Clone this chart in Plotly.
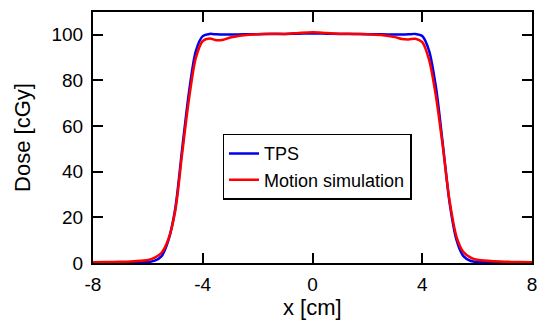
import plotly.graph_objects as go

x_cm = [-8, -7.5, -7, -6.5, -6, -5.75, -5.5, -5.25, -5, -4.75, -4.5, -4.25, -4, -3.75, -3.5, -3.25, -3,
        -2.5, -2, -1.5, -1, -0.5, 0, 0.5, 1, 1.5, 2, 2.5,
        3, 3.25, 3.5, 3.75, 4, 4.25, 4.5, 4.75, 5, 5.25, 5.5, 5.75, 6, 6.5, 7, 7.5, 8]

tps_dose = [0.0, 0.05, 0.1, 0.2, 0.4, 1.0, 3.0, 10, 24, 50, 75, 93, 99.4, 100.4, 100.2, 100.1, 100.1,
            100.2, 100.3, 100.4, 100.4, 100.5, 100.6, 100.5, 100.4, 100.4, 100.3, 100.2,
            100.1, 100.1, 100.2, 100.4, 99.5, 93, 77, 52, 26, 10, 3.0, 1.0, 0.4, 0.2, 0.1, 0.05, 0.0]

motion_dose = [0.3, 0.4, 0.5, 0.8, 1.3, 2.4, 4.5, 10.5, 23, 48, 72, 90, 97.3, 98.4, 97.6, 97.8, 98.8,
               99.8, 100.3, 100.5, 100.4, 100.8, 101.1, 100.8, 100.5, 100.4, 100.3, 99.9,
               99.0, 98.2, 98.0, 98.3, 96.8, 89, 73, 51, 27, 11.5, 4.8, 2.5, 1.4, 0.9, 0.6, 0.4, 0.3]

FONT = "Liberation Sans, Arial, sans-serif"

fig = go.Figure()
fig.add_trace(go.Scatter(x=x_cm, y=tps_dose, mode="lines", name="TPS",
                         line=dict(color="#0000ee", width=2.5, shape="spline", smoothing=0.8)))
fig.add_trace(go.Scatter(x=x_cm, y=motion_dose, mode="lines", name="Motion simulation",
                         line=dict(color="#ff0000", width=2.5, shape="spline", smoothing=0.8)))

axis_common = dict(showline=True, linecolor="black", linewidth=2, mirror="ticks",
                   ticks="inside", ticklen=10, tickwidth=2, tickcolor="black",
                   showgrid=False, zeroline=False,
                   tickfont=dict(family=FONT, size=19, color="black"))

fig.update_xaxes(range=[-8, 8], tickvals=[-8, -4, 0, 4, 8], ticktext=["-8", "-4", "0", "4", "8"],
                 ticklabelstandoff=3,
                 **axis_common)
fig.update_yaxes(range=[0, 110], tickvals=[0, 20, 40, 60, 80, 100],
                 ticklabelstandoff=4,
                 title=dict(text="Dose [cGy]", font=dict(family=FONT, size=22, color="black"), standoff=15),
                 **axis_common)

fig.add_annotation(text="x [cm]", xref="paper", yref="paper", x=0.5, y=-0.178,
                   xanchor="center", yanchor="middle", showarrow=False,
                   font=dict(family=FONT, size=22, color="black"))

fig.update_layout(
    width=544, height=335,
    margin=dict(l=93, r=7, t=12, b=72),
    plot_bgcolor="white", paper_bgcolor="white",
    showlegend=True,
    legend=dict(x=0.295, y=0.515, xanchor="left", yanchor="top",
                bordercolor="black", borderwidth=1.5, bgcolor="white",
                font=dict(family=FONT, size=18, color="black"),
                tracegroupgap=0, itemwidth=30),
)

fig.write_html("out.html")
